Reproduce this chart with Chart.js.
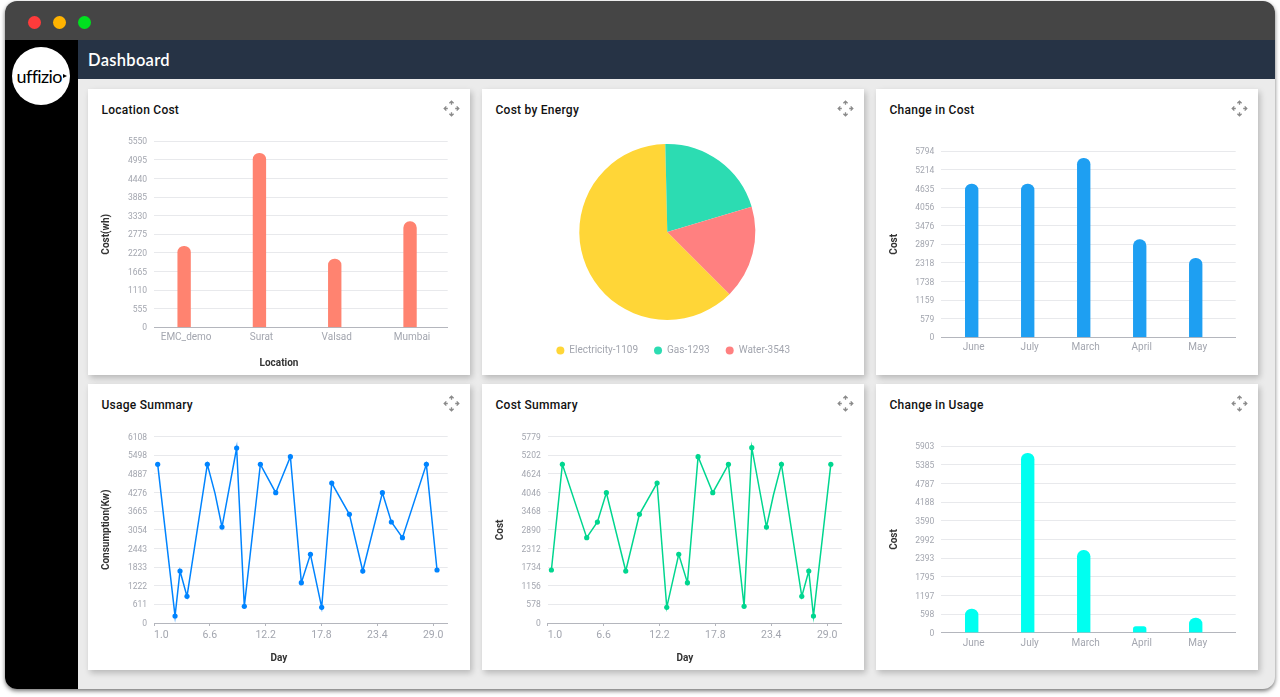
<!DOCTYPE html>
<html>
<head>
<meta charset="utf-8">
<script src="https://cdn.jsdelivr.net/npm/chart.js@4"></script>
<style>
  html, body { margin: 0; width: 1280px; height: 697px; overflow: hidden; background: #fff; font-family: Roboto, sans-serif; }
  #frame { position: absolute; left: 5px; top: 1px; width: 1270px; height: 688px; border-radius: 12px; overflow: hidden; background: #ebebeb; box-shadow: 0 2px 4px rgba(0,0,0,.55); }
  #titlebar { position: absolute; left: 0; top: 0; width: 100%; height: 39px; background: #454545; }
  .dot { position: absolute; top: 15px; width: 13.4px; height: 13.4px; border-radius: 50%; }
  #sidebar { position: absolute; left: 0; top: 39px; width: 73px; bottom: 0; background: #000; }
  #logo { position: absolute; left: 6.5px; top: 7px; width: 58px; height: 58px; border-radius: 50%; background: #fff; color: #000; font: 400 18px/58px Lato, sans-serif; letter-spacing: -0.6px; text-indent: 5px; }
  #logo i { position: absolute; left: 51px; top: 27px; border-left: 4px solid #000; border-top: 2.5px solid transparent; border-bottom: 2.5px solid transparent; }
  #header { position: absolute; left: 73px; top: 39px; right: 0; height: 39px; background: #263345; color: #fff; font: 600 16.5px/40px Lato, sans-serif; padding-left: 10px; letter-spacing: .3px; }
  .card { position: absolute; width: 382px; height: 286px; background: #fff; box-shadow: 2px 3px 6px rgba(0,0,0,.22); }
  .card h3 { position: absolute; left: 13.5px; top: 14px; margin: 0; font: 500 12px/15px Roboto, sans-serif; letter-spacing: .25px; color: #111; }
  .card svg { position: absolute; right: 10.5px; top: 10.5px; }
  .card canvas { position: absolute; left: 0; top: 0; }
</style>
</head>
<body>
<div id="frame">
  <div id="titlebar">
    <div class="dot" style="left:23px;background:#ff3b3b"></div>
    <div class="dot" style="left:48px;background:#ffb300"></div>
    <div class="dot" style="left:73px;background:#00e01f"></div>
  </div>
  <div id="sidebar"><div id="logo">uffizio<i></i></div></div>
  <div id="header">Dashboard</div>
</div>
<script>
const locations = ['EMC_demo', 'Surat', 'Valsad', 'Mumbai'];
const locationCost = [2417, 5191, 2039, 3153];
const locationTicks = [0, 555, 1110, 1665, 2220, 2775, 3330, 3885, 4440, 4995, 5550];

const energyLabels = ['Electricity-1109', 'Gas-1293', 'Water-3543'];
const energyValues = [3694, 1235, 1016];

const months = ['June', 'July', 'March', 'April', 'May'];
const changeCost = [4776, 4776, 5576, 3042, 2461];
const changeCostTicks = [0, 579, 1159, 1738, 2318, 2897, 3476, 4056, 4635, 5214, 5794];
const changeUsage = [750, 5681, 2608, 190, 465];
const changeUsageTicks = [0, 598, 1197, 1795, 2393, 2992, 3590, 4188, 4787, 5385, 5903];

const dayTicks = [1.0, 6.6, 12.2, 17.8, 23.4, 29.0];

const usageDays = [1.37, 3.11, 3.61, 4.31, 6.35, 7.12, 7.82, 9.29, 10.06, 11.67, 13.21, 14.68, 15.78, 16.69, 17.82, 18.83, 20.6, 21.94, 23.91, 24.81, 25.92, 28.32, 29.39];
const usageValues = [5201, 229, 1704, 874, 5201, 4250, 3147, 5736, 546, 5201, 4272, 5452, 1322, 2251, 514, 4589, 3562, 1704, 4272, 3311, 2797, 5201, 1737];
const usageUnmarked = [7.12];
const usageTicks = [0, 611, 1222, 1833, 2443, 3054, 3665, 4276, 4887, 5498, 6108];

const costDays = [1.37, 2.47, 4.91, 5.98, 6.88, 8.82, 10.19, 11.96, 12.93, 14.13, 15.0, 16.07, 17.54, 19.11, 20.68, 21.45, 22.92, 23.62, 24.42, 26.46, 27.16, 27.63, 29.37];
const costValues = [1644, 4921, 2647, 3132, 4042, 1613, 3370, 4342, 486, 2130, 1251, 5159, 4042, 4921, 517, 5438, 2977, 3970, 4921, 827, 1613, 217, 4921];
const costUnmarked = [23.62];
const costTicks = [0, 578, 1156, 1734, 2312, 2890, 3468, 4046, 4624, 5202, 5779];

const CARD_W = 382, CARD_H = 286;
const LEFT_PAD = 10;
const TICK_GREY = '#a3a6af', GRID = '#e8e9ec', AXIS = '#b4b6bd', TITLE_INK = '#333';
const ICON = '<svg width="17" height="17" viewBox="0 0 17 17" fill="none" stroke="#8b8b8b" stroke-width="1.3">'
  + '<path d="M8.5 1.2v3.6M6.4 3.3l2.1-2.1 2.1 2.1"/>'
  + '<path d="M8.5 15.8v-3.6M6.4 13.7l2.1 2.1 2.1-2.1"/>'
  + '<path d="M1.2 8.5h3.6M3.3 6.4L1.2 8.5l2.1 2.1"/>'
  + '<path d="M15.8 8.5h-3.6M13.7 6.4l2.1 2.1-2.1 2.1"/></svg>';

function addCard(title, left, top) {
  const card = document.createElement('div');
  card.className = 'card';
  card.style.left = (left - 5) + 'px';
  card.style.top = (top - 1) + 'px';
  card.innerHTML = '<h3>' + title + '</h3>' + ICON + '<canvas width="' + CARD_W + '" height="' + CARD_H + '"></canvas>';
  document.getElementById('frame').appendChild(card);
  return card.querySelector('canvas');
}

// The x titles in the source aren't centred on their plots, so move the title block after layout.
function bottomTitleAt(center) {
  return {
    id: 'bottomTitleAt',
    afterLayout(chart) {
      const title = chart.titleBlock;
      const shift = center - (title.left + title.right) / 2;
      title.left += shift;
      title.right += shift;
    },
  };
}

// Common cartesian setup. plot = card-relative edges of the plot area.
function cartesianOptions(plot, yLabel, yTicks, xLabel) {
  const yMax = yTicks[yTicks.length - 1];
  return {
    responsive: false,
    animation: false,
    devicePixelRatio: 1,
    layout: { padding: { left: LEFT_PAD, right: CARD_W - plot.right, top: plot.top, bottom: 0 } },
    plugins: {
      legend: { display: false },
      tooltip: { enabled: false },
      title: {
        display: !!xLabel,
        text: xLabel,
        position: 'bottom',
        color: TITLE_INK,
        font: { family: 'Roboto', size: 10, weight: 'bold' },
        padding: { top: 0, bottom: 6 },
      },
    },
    scales: {
      y: {
        min: 0,
        max: yMax,
        afterFit: s => { s.width = plot.left - LEFT_PAD; },
        // Labels in the source aren't a clean step, so positions are even and the text comes from the array.
        afterBuildTicks: s => { s.ticks = yTicks.map((v, i) => ({ value: yMax * i / (yTicks.length - 1) })); },
        ticks: { color: TICK_GREY, font: { family: 'Roboto', size: 8.5 }, padding: 7, labelOffset: 1, callback: (v, i) => yTicks[i] },
        grid: { color: GRID, drawTicks: false },
        border: { display: false },
        title: { display: true, text: yLabel, color: TITLE_INK, font: { family: 'Roboto', size: 10, weight: 'bold' }, padding: { top: 18 - LEFT_PAD - 6, bottom: 0 } },
      },
    },
  };
}

function barChart(canvas, cfg) {
  const options = cartesianOptions(cfg.plot, cfg.yLabel, cfg.yTicks, cfg.xLabel);
  const block = cfg.xLabel ? 18 : 0;
  options.scales.x = {
    type: 'linear',
    offset: false,
    min: cfg.xMin,
    max: cfg.xMax,
    afterFit: s => { s.height = CARD_H - cfg.plot.bottom - block; },
    afterBuildTicks: s => { s.ticks = cfg.labels.map((l, i) => ({ value: i })); },
    ticks: { color: TICK_GREY, font: { family: 'Roboto', size: 10 }, padding: 4.5, labelOffset: 2, maxRotation: 0, autoSkip: false, callback: (v, i) => cfg.labels[i] },
    grid: { display: false, drawTicks: false },
    border: { color: AXIS },
  };
  return new Chart(canvas, {
    type: 'bar',
    data: {
      datasets: [{
        data: cfg.values.map((v, i) => ({ x: i, y: v })),
        backgroundColor: cfg.color,
        barThickness: 12.7,
        borderRadius: 6.4,
      }],
    },
    options,
    plugins: cfg.xLabel ? [bottomTitleAt(cfg.xTitleCenter)] : [],
  });
}

function lineChart(canvas, cfg) {
  const options = cartesianOptions(cfg.plot, cfg.yLabel, cfg.yTicks, 'Day');
  const xMax = 30.46;
  options.scales.x = {
    type: 'linear',
    min: 1,
    max: xMax,
    afterFit: s => { s.height = CARD_H - cfg.plot.bottom - 18; },
    // extra tick at the end so align:'inner' only left-aligns the first label, as the source does
    afterBuildTicks: s => { s.ticks = dayTicks.concat(xMax).map(v => ({ value: v })); },
    ticks: { color: TICK_GREY, font: { family: 'Roboto', size: 10.5 }, padding: 3, align: 'inner', maxRotation: 0, autoSkip: false, callback: (v, i) => (i < dayTicks.length ? dayTicks[i].toFixed(1) : '') },
    grid: { drawOnChartArea: false, tickLength: 3, tickColor: ctx => (ctx.index < dayTicks.length ? AXIS : 'transparent') },
    border: { color: AXIS },
  };
  return new Chart(canvas, {
    type: 'line',
    data: {
      datasets: [{
        data: cfg.days.map((d, i) => ({ x: d, y: cfg.values[i] })),
        borderColor: cfg.color,
        backgroundColor: cfg.color,
        borderWidth: 1.5,
        tension: 0,
        pointRadius: ctx => (cfg.unmarked.includes(ctx.raw.x) ? 0 : 2.6),
        pointBorderWidth: 0,
      }],
    },
    options,
    plugins: [bottomTitleAt(cfg.xTitleCenter)],
  });
}

barChart(addCard('Location Cost', 88, 89), {
  plot: { left: 66, right: 359.7, top: 52.3, bottom: 238.3 },
  labels: locations, values: locationCost, yTicks: locationTicks,
  yLabel: 'Cost(wh)', xLabel: 'Location', xTitleCenter: 191, color: '#ff8370', xMin: -0.4, xMax: 3.5,
});

// pie: chart area is taller than the pie so the legend row lands below it.
// The pie sits left of the card centre but the legend doesn't, hence the nudge.
new Chart(addCard('Cost by Energy', 482, 89), {
  type: 'pie',
  data: {
    labels: energyLabels,
    datasets: [{
      data: energyValues,
      backgroundColor: ['#ffd637', '#2cdcb2', '#ff8080'],
      borderWidth: 0,
      radius: 88,
    }],
  },
  options: {
    responsive: false,
    animation: false,
    devicePixelRatio: 1,
    rotation: 135,
    layout: { padding: { left: 20, right: 31.4, top: 45.4, bottom: 9.6 } },
    plugins: {
      tooltip: { enabled: false },
      legend: {
        position: 'bottom',
        labels: { usePointStyle: true, pointStyle: 'circle', boxWidth: 8, boxHeight: 5.66, padding: 16, color: TICK_GREY, font: { family: 'Roboto', size: 10 } },
      },
    },
  },
  plugins: [{
    id: 'legendNudge',
    afterLayout(chart) {
      chart.legend.left += 5.9;
      chart.legend.right += 5.9;
    },
  }],
});

barChart(addCard('Change in Cost', 876, 89), {
  plot: { left: 65.3, right: 359.7, top: 62.3, bottom: 248.3 },
  labels: months, values: changeCost, yTicks: changeCostTicks,
  yLabel: 'Cost', color: '#1e9ff2', xMin: -0.543, xMax: 4.714,
});

lineChart(addCard('Usage Summary', 88, 384), {
  plot: { left: 66, right: 359.7, top: 52.7, bottom: 239 },
  days: usageDays, values: usageValues, unmarked: usageUnmarked, yTicks: usageTicks,
  yLabel: 'Consumption(Kw)', xTitleCenter: 191, color: '#0084ff',
});

lineChart(addCard('Cost Summary', 482, 384), {
  plot: { left: 65.7, right: 359.7, top: 52.7, bottom: 239 },
  days: costDays, values: costValues, unmarked: costUnmarked, yTicks: costTicks,
  yLabel: 'Cost', xTitleCenter: 203, color: '#00d68f',
});

barChart(addCard('Change in Usage', 876, 384), {
  plot: { left: 65.3, right: 359.7, top: 62.3, bottom: 248.7 },
  labels: months, values: changeUsage, yTicks: changeUsageTicks,
  yLabel: 'Cost', color: '#00fff0', xMin: -0.543, xMax: 4.714,
});
</script>
</body>
</html>
